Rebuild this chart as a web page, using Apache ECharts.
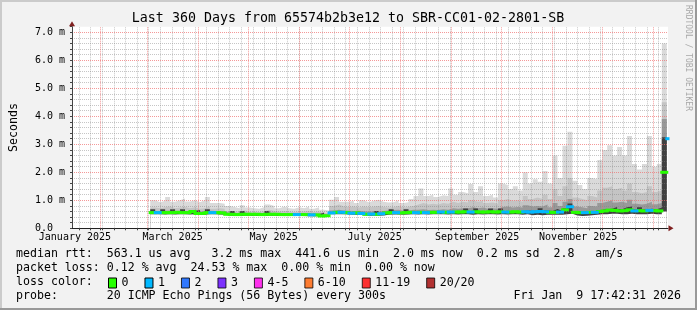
<!DOCTYPE html>
<html>
<head>
<meta charset="utf-8">
<script src="https://cdn.jsdelivr.net/npm/echarts@6/dist/echarts.min.js"></script>
<style>
html,body{margin:0;padding:0;background:#f2f2f2;}
#chart{width:697px;height:310px;}
</style>
</head>
<body>
<div id="chart"></div>
<script>
// ---------------- data ----------------
const titleText = 'Last 360 Days from 65574b2b3e12 to SBR-CC01-02-2801-SB';
const rangeStart = '2025-01-14T17:42:31Z';
const rangeEnd = '2026-01-09T17:42:31Z';
const startDate = '2025-03-03';   // first sample
const stepDays = 3;               // one sample every 3 days

// smoke envelope (ms): max, upper band, inner band, dark core, min
const smokeMax = [1.0, 0.93, 0.98, 1.12, 0.95, 1.0, 1.06, 0.96, 1.0, 0.93,
  1.0, 1.12, 0.9, 0.9, 0.88, 0.8, 0.76, 0.72, 0.82, 0.74,
  0.72, 0.7, 0.76, 0.85, 0.8, 0.72, 0.78, 0.72, 0.7, 0.75,
  0.72, 0.78, 0.7, 0.75, 0.66, 0.64, 1.02, 1.12, 0.95, 0.95,
  0.98, 0.9, 1.0, 0.93, 0.98, 1.02, 0.95, 0.92, 0.93, 1.0,
  0.9, 0.93, 1.05, 1.15, 1.42, 1.15, 1.2, 1.12, 1.18, 1.15,
  1.42, 1.2, 1.3, 1.25, 1.58, 1.3, 1.5, 1.15, 1.2, 1.1,
  1.6, 1.55, 1.4, 1.5, 1.35, 2.0, 1.6, 1.75, 1.66, 2.05,
  1.6, 2.6, 1.8, 2.95, 3.45, 1.7, 1.55, 1.4, 1.8, 1.75,
  2.44, 2.8, 2.97, 2.6, 2.9, 2.6, 3.3, 2.3, 2.1, 2.3,
  3.3, 2.2, 2.3, 6.6, 6.6];
const smokeUpper = [0.74, 0.72, 0.75, 0.78, 0.72, 0.74, 0.76, 0.72, 0.75, 0.7,
  0.72, 0.78, 0.7, 0.72, 0.7, 0.62, 0.6, 0.6, 0.64, 0.6,
  0.6, 0.58, 0.62, 0.66, 0.62, 0.6, 0.62, 0.6, 0.58, 0.6,
  0.6, 0.62, 0.58, 0.6, 0.55, 0.55, 0.8, 0.85, 0.78, 0.76,
  0.78, 0.74, 0.78, 0.75, 0.77, 0.8, 0.76, 0.74, 0.75, 0.8,
  0.74, 0.76, 0.8, 0.85, 0.9, 0.85, 0.88, 0.85, 0.9, 0.88,
  0.95, 0.9, 0.95, 0.92, 1.0, 0.95, 0.98, 0.9, 0.92, 0.88,
  1.0, 1.05, 0.98, 1.0, 0.95, 1.15, 1.05, 1.1, 1.05, 1.2,
  1.05, 1.4, 1.15, 1.5, 1.8, 1.1, 1.05, 1.0, 1.15, 1.1,
  1.35, 1.45, 1.5, 1.4, 1.45, 1.35, 1.6, 1.3, 1.25, 1.3,
  1.5, 1.3, 1.35, 4.5, 4.5];
const smokeInner = [0.62, 0.62, 0.63, 0.64, 0.62, 0.63, 0.62, 0.62, 0.66, 0.6,
  0.6, 0.63, 0.62, 0.62, 0.61, 0.55, 0.55, 0.54, 0.56, 0.55,
  0.55, 0.55, 0.54, 0.56, 0.55, 0.55, 0.54, 0.54, 0.54, 0.54,
  0.54, 0.54, 0.53, 0.53, 0.5, 0.5, 0.64, 0.66, 0.64, 0.63,
  0.62, 0.63, 0.61, 0.6, 0.6, 0.6, 0.62, 0.64, 0.65, 0.66,
  0.63, 0.64, 0.66, 0.66, 0.68, 0.65, 0.66, 0.65, 0.68, 0.66,
  0.72, 0.7, 0.72, 0.72, 0.75, 0.72, 0.74, 0.7, 0.72, 0.7,
  0.76, 0.78, 0.74, 0.76, 0.74, 0.82, 0.78, 0.8, 0.78, 0.85,
  0.75, 0.9, 0.8, 0.95, 1.05, 0.78, 0.75, 0.72, 0.8, 0.78,
  0.9, 0.95, 1.0, 0.92, 0.95, 0.9, 1.02, 0.88, 0.85, 0.88,
  0.95, 0.86, 0.9, 3.9, 3.9];
const smokeCore = [0.68, 0.58, 0.68, 0.58, 0.68, 0.59, 0.68, 0.58, 0.62, 0.65,
  0.55, 0.68, 0.58, 0.58, 0.57, 0.52, 0.62, 0.51, 0.62, 0.52,
  0.52, 0.52, 0.51, 0.62, 0.52, 0.52, 0.51, 0.51, 0.51, 0.51,
  0.51, 0.51, 0.5, 0.5, 0.56, 0.47, 0.57, 0.59, 0.59, 0.58,
  0.56, 0.57, 0.55, 0.52, 0.53, 0.62, 0.54, 0.57, 0.68, 0.58,
  0.57, 0.68, 0.59, 0.58, 0.59, 0.58, 0.59, 0.59, 0.6, 0.59,
  0.61, 0.61, 0.61, 0.71, 0.61, 0.71, 0.61, 0.61, 0.71, 0.61,
  0.71, 0.62, 0.62, 0.62, 0.62, 0.64, 0.63, 0.63, 0.72, 0.64,
  0.62, 0.69, 0.62, 0.72, 0.89, 0.62, 0.6, 0.6, 0.62, 0.62,
  0.66, 0.68, 0.7, 0.76, 0.68, 0.75, 0.78, 0.67, 0.75, 0.67,
  0.7, 0.68, 0.74, 3.25, 3.25];
const smokeMin = [0.5, 0.5, 0.49, 0.5, 0.49, 0.5, 0.5, 0.49, 0.5, 0.48,
  0.48, 0.5, 0.5, 0.49, 0.48, 0.45, 0.45, 0.44, 0.45, 0.45,
  0.44, 0.45, 0.44, 0.45, 0.45, 0.44, 0.44, 0.44, 0.44, 0.44,
  0.44, 0.43, 0.43, 0.43, 0.4, 0.41, 0.5, 0.5, 0.5, 0.49,
  0.48, 0.48, 0.47, 0.45, 0.45, 0.45, 0.46, 0.48, 0.49, 0.49,
  0.48, 0.49, 0.5, 0.49, 0.5, 0.49, 0.5, 0.5, 0.5, 0.49,
  0.5, 0.49, 0.5, 0.5, 0.48, 0.5, 0.49, 0.5, 0.5, 0.49,
  0.5, 0.49, 0.5, 0.5, 0.48, 0.5, 0.47, 0.48, 0.47, 0.48,
  0.48, 0.48, 0.48, 0.5, 0.52, 0.46, 0.44, 0.45, 0.47, 0.48,
  0.5, 0.5, 0.52, 0.52, 0.5, 0.5, 0.52, 0.5, 0.5, 0.5,
  0.52, 0.5, 0.5, 0.6, 0.6];
const medianRtt = [0.56, 0.56, 0.56, 0.56, 0.56, 0.57, 0.56, 0.56, 0.6, 0.53,
  0.53, 0.56, 0.56, 0.56, 0.55, 0.5, 0.5, 0.49, 0.5, 0.5,
  0.5, 0.5, 0.49, 0.5, 0.5, 0.5, 0.49, 0.49, 0.49, 0.49,
  0.49, 0.49, 0.48, 0.48, 0.44, 0.45, 0.55, 0.57, 0.57, 0.56,
  0.54, 0.55, 0.53, 0.5, 0.51, 0.5, 0.52, 0.55, 0.56, 0.56,
  0.55, 0.56, 0.57, 0.56, 0.57, 0.56, 0.57, 0.57, 0.58, 0.57,
  0.58, 0.58, 0.58, 0.59, 0.58, 0.59, 0.58, 0.58, 0.59, 0.58,
  0.59, 0.58, 0.58, 0.59, 0.58, 0.59, 0.58, 0.59, 0.6, 0.59,
  0.57, 0.57, 0.58, 0.66, 0.77, 0.57, 0.56, 0.56, 0.57, 0.57,
  0.6, 0.62, 0.65, 0.64, 0.62, 0.63, 0.66, 0.62, 0.63, 0.62,
  0.64, 0.63, 0.62, 2.0, 3.2];
const lossCount = [0, 1, 0, 0, 0, 0, 0, 0, 0, 0,
  0, 0, 1, 0, 0, 0, 0, 0, 0, 0,
  0, 0, 0, 0, 0, 0, 0, 0, 0, 1,
  0, 0, 1, 0, 0, 0, 1, 0, 1, 0,
  1, 0, 1, 0, 1, 0, 1, 0, 0, 1,
  0, 0, 0, 1, 0, 1, 0, 0, 1, 0,
  1, 0, 0, 0, 1, 0, 0, 0, 0, 0,
  0, 1, 0, 0, 0, 1, 1, 1, 1, 1,
  0, 0, 1, 0, 1, 0, 0, 1, 0, 1,
  0, 0, 0, 0, 0, 0, 0, 1, 0, 0,
  1, 0, 0, 0, 1];

// axis texts
const monthLabels = ['January 2025', 'March 2025', 'May 2025', 'July 2025', 'September 2025', 'November 2025'];
const monthLabelDates = ['2025-01-16T12:00:00Z', '2025-03-16T12:00:00Z', '2025-05-16T12:00:00Z',
  '2025-07-16T12:00:00Z', '2025-09-16T12:00:00Z', '2025-11-16T12:00:00Z'];
const monthStarts = ['2025-02-01', '2025-03-01', '2025-04-01', '2025-05-01', '2025-06-01', '2025-07-01',
  '2025-08-01', '2025-09-01', '2025-10-01', '2025-11-01', '2025-12-01', '2026-01-01'];
const firstSunday = '2025-01-19';
const yMajorValues = [1, 2, 3, 4, 5, 6, 7];
const yMinorStep = 0.2;
const yTopGrid = 7.0;
const yMax = 7.2;

// loss legend
const lossNames = ['0', '1', '2', '3', '4-5', '6-10', '11-19', '20/20'];
const lossColors = ['#26ff00', '#00b8ff', '#0059ff', '#5e00ff', '#ff00ea', '#ff5e00', '#ff0000', '#a00000'];
const lossUpper = [0, 1, 2, 3, 5, 10, 19, 20];

// legend text lines
const legendLine1 = 'median rtt:  563.1 us avg   3.2 ms max  441.6 us min  2.0 ms now  0.2 ms sd  2.8   am/s';
const legendLine2 = 'packet loss: 0.12 % avg  24.53 % max  0.00 % min  0.00 % now';
const legendLine3 = 'loss color:';
const legendLine4 = 'probe:       20 ICMP Echo Pings (56 Bytes) every 300s';
const timestampText = 'Fri Jan  9 17:42:31 2026';
const watermark = 'RRDTOOL / TOBI OETIKER';

// ---------------- build ----------------
const MONO = '"DejaVu Sans Mono", monospace';
const DAY = 86400000;
const T0 = Date.parse(rangeStart), T1 = Date.parse(rangeEnd);
const tStart = Date.parse(startDate + 'T00:00:00Z');
const times = medianRtt.map((_, i) => tStart + i * stepDays * DAY);
const pts = arr => arr.map((v, i) => [times[i], v]);

const labelTimes = monthLabelDates.map(d => Date.parse(d));
const monthLineTimes = monthStarts.map(d => Date.parse(d + 'T00:00:00Z'));
const weekLineTimes = [];
for (let t = Date.parse(firstSunday + 'T00:00:00Z'); t < T1; t += 7 * DAY) weekLineTimes.push(t);
const yMinorValues = [];
for (let k = 1; k * yMinorStep < yTopGrid - 1e-9; k++) {
  const v = +(k * yMinorStep).toFixed(1);
  if (Math.abs(v - Math.round(v)) > 1e-9) yMinorValues.push(v);
}

const minorStyle = { color: 'rgba(128,128,128,0.45)', type: [1, 1], width: 1 };
const majorStyle = { color: 'rgba(240,110,110,0.7)', type: [1, 1], width: 1 };
const gridLines = [].concat(
  weekLineTimes.map(t => ({ xAxis: t, lineStyle: minorStyle })),
  yMinorValues.map(v => ({ yAxis: v, lineStyle: minorStyle })),
  monthLineTimes.map(t => ({ xAxis: t, lineStyle: majorStyle })),
  yMajorValues.map(v => ({ yAxis: v, lineStyle: majorStyle }))
);

function lossColor(n) {
  for (let k = 0; k < lossUpper.length; k++) if (n <= lossUpper[k]) return lossColors[k];
  return lossColors[lossColors.length - 1];
}

function band(name, values, color, extra) {
  return Object.assign({
    type: 'line', name: name, step: 'end', data: pts(values),
    symbol: 'none', showSymbol: false, silent: true, z: 2,
    lineStyle: { width: 0 }, areaStyle: { color: color, opacity: 1 },
    emphasis: { disabled: true }, animation: false
  }, extra || {});
}

// median drawn as one short segment per sample, coloured by the loss of that sample
const segOk = [], segLoss = [];
medianRtt.forEach((m, i) => {
  const tEnd = i + 1 < times.length ? times[i + 1] : T1;
  const item = { value: [times[i], m, tEnd, lossCount[i]], itemStyle: { color: lossColor(lossCount[i]) } };
  (lossCount[i] > 0 ? segLoss : segOk).push(item);
});
function renderSeg(params, api) {
  const p0 = api.coord([api.value(0), api.value(1)]);
  const p1 = api.coord([api.value(2), api.value(1)]);
  return {
    type: 'line', silent: true,
    shape: { x1: p0[0], y1: p0[1], x2: p1[0], y2: p1[1] },
    style: { stroke: api.visual('color'), lineWidth: 3, lineCap: 'square' }
  };
}

const series = [
  band('smokeMax', smokeMax, '#dadada', {
    markLine: { silent: true, symbol: ['none', 'none'], label: { show: false }, animation: false,
      emphasis: { disabled: true }, data: gridLines }
  }),
  band('smokeUpper', smokeUpper, '#c4c4c4'),
  band('smokeInner', smokeInner, '#999999'),
  band('smokeCore', smokeCore, '#404040'),
  band('smokeMin', smokeMin, '#ffffff'),
  {
    type: 'custom', name: lossNames[0], data: segOk, renderItem: renderSeg, encode: { x: [0, 2], y: 1 },
    itemStyle: { color: lossColors[0] }, z: 6, silent: true, animation: false
  },
  {
    type: 'custom', name: lossNames[1], data: segLoss, renderItem: renderSeg, encode: { x: [0, 2], y: 1 },
    itemStyle: { color: lossColors[1] }, z: 7, silent: true, animation: false
  }
];
for (let k = 2; k < lossNames.length; k++) {
  series.push({ type: 'scatter', name: lossNames[k], data: [], itemStyle: { color: lossColors[k] } });
}

const chart = echarts.init(document.getElementById('chart'), null, { renderer: 'canvas' });
chart.setOption({
  animation: false,
  backgroundColor: '#f2f2f2',
  textStyle: { fontFamily: MONO },
  grid: { left: 67, top: 26.7, width: 601, height: 201.6, show: true, backgroundColor: '#ffffff', borderWidth: 0, containLabel: false },
  legend: {
    left: 108, top: 277, padding: 0, itemGap: 16, itemWidth: 8, itemHeight: 10, icon: 'rect', selectedMode: false,
    textStyle: { fontFamily: MONO, fontSize: 11.6, color: '#000' },
    data: lossNames.map((n, k) => ({ name: n, icon: 'rect', itemStyle: { color: lossColors[k], borderColor: '#000', borderWidth: 1 } }))
  },
  xAxis: [
    {
      type: 'value', min: T0, max: T1, position: 'bottom', z: 10, scale: true,
      axisLine: { show: true, onZero: false, lineStyle: { color: '#222', width: 1 } },
      axisTick: { show: true, length: 2, customValues: weekLineTimes.concat(monthLineTimes), lineStyle: { color: '#444' } },
      axisLabel: {
        customValues: labelTimes, margin: 4, fontFamily: MONO, fontSize: 10, color: '#000', hideOverlap: false,
        formatter: function (val) {
          const k = labelTimes.findIndex(t => Math.abs(t - val) < DAY);
          return k >= 0 ? monthLabels[k] : '';
        }
      },
      splitLine: { show: false }
    },
    {
      type: 'value', min: T0, max: T1, position: 'bottom', z: 11, scale: true,
      axisLine: { show: true, onZero: false, symbol: ['none', 'triangle'], symbolSize: [6, 5], symbolOffset: [0, 3],
        lineStyle: { color: '#7f1f1f', opacity: 0 } },
      axisTick: { show: false }, axisLabel: { show: false }, splitLine: { show: false }
    }
  ],
  yAxis: [
    {
      type: 'value', min: 0, max: yMax, interval: yMinorStep, position: 'left', z: 10,
      name: 'Seconds', nameLocation: 'middle', nameGap: 52, nameRotate: 90,
      nameTextStyle: { fontFamily: MONO, fontSize: 11.6, color: '#000' },
      axisLine: { show: true, onZero: false, lineStyle: { color: '#444', width: 1 } },
      axisTick: { show: true, length: 2, lineStyle: { color: '#444' } },
      axisLabel: {
        margin: 37, align: 'left', fontFamily: MONO, fontSize: 10, color: '#000',
        formatter: function (v) {
          if (Math.abs(v - Math.round(v)) > 1e-6 || v > yTopGrid + 1e-6) return '';
          return v === 0 ? '0.0' : v.toFixed(1) + ' m';
        }
      },
      splitLine: { show: false }
    },
    {
      type: 'value', min: 0, max: yMax, position: 'left', z: 11,
      axisLine: { show: true, onZero: false, symbol: ['none', 'triangle'], symbolSize: [6, 5], symbolOffset: [0, 3],
        lineStyle: { color: '#7f1f1f', opacity: 0 } },
      axisTick: { show: false }, axisLabel: { show: false }, splitLine: { show: false }
    }
  ],
  series: series,
  graphic: [
    { type: 'rect', z: 100, silent: true, shape: { x: 0, y: 0, width: 697, height: 2 }, style: { fill: '#cbcbcb' } },
    { type: 'rect', z: 100, silent: true, shape: { x: 0, y: 0, width: 2, height: 310 }, style: { fill: '#cbcbcb' } },
    { type: 'rect', z: 100, silent: true, shape: { x: 0, y: 308, width: 697, height: 2 }, style: { fill: '#999999' } },
    { type: 'rect', z: 100, silent: true, shape: { x: 695, y: 0, width: 2, height: 310 }, style: { fill: '#999999' } },
    { type: 'text', z: 100, silent: true, x: 348, y: 19, style: { text: titleText, font: '13.3px ' + MONO, fill: '#000', textAlign: 'center', textVerticalAlign: 'middle' } },
    { type: 'text', z: 100, silent: true, x: 16, y: 254, style: { text: legendLine1, font: '11.6px ' + MONO, fill: '#000', textAlign: 'left', textVerticalAlign: 'middle' } },
    { type: 'text', z: 100, silent: true, x: 16, y: 268, style: { text: legendLine2, font: '11.6px ' + MONO, fill: '#000', textAlign: 'left', textVerticalAlign: 'middle' } },
    { type: 'text', z: 100, silent: true, x: 16, y: 282, style: { text: legendLine3, font: '11.6px ' + MONO, fill: '#000', textAlign: 'left', textVerticalAlign: 'middle' } },
    { type: 'text', z: 100, silent: true, x: 16, y: 296, style: { text: legendLine4, font: '11.6px ' + MONO, fill: '#000', textAlign: 'left', textVerticalAlign: 'middle' } },
    { type: 'text', z: 100, silent: true, x: 681, y: 296, style: { text: timestampText, font: '11.6px ' + MONO, fill: '#000', textAlign: 'right', textVerticalAlign: 'middle' } },
    { type: 'text', z: 100, silent: true, x: 688, y: 5, rotation: -Math.PI / 2, style: { text: watermark, font: '8px ' + MONO, fill: '#a8a8a8', textAlign: 'left', textVerticalAlign: 'middle' } }
  ]
});
</script>
</body>
</html>
